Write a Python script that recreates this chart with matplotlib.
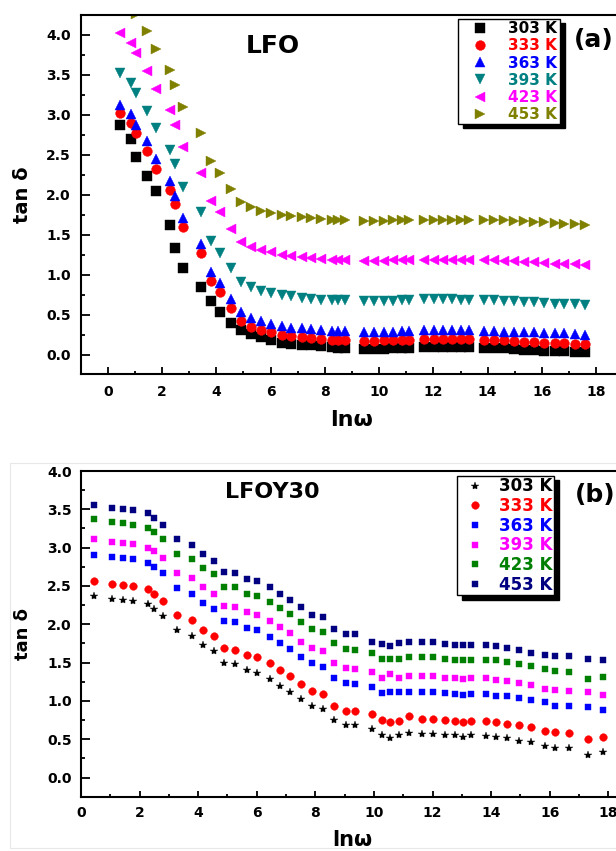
import matplotlib
matplotlib.use("Agg")
import matplotlib.pyplot as plt
from matplotlib.patches import Rectangle
from matplotlib.ticker import MultipleLocator

plt.rcParams['font.family'] = ['DejaVu Sans']
plt.rcParams['font.weight'] = 'bold'

W, H = 616, 851

# ---- panel (a) : LFO ----
lnw_a = [0.45, 0.85, 1.04, 1.44, 1.78, 2.29, 2.48, 2.78, 3.43, 3.81, 4.14, 4.54,
         4.91, 5.29, 5.66, 6.03, 6.42, 6.76, 7.16, 7.5, 7.87, 8.27, 8.49, 8.76,
         9.43, 9.8, 10.17, 10.5, 10.85, 11.09,
         11.65, 12.01, 12.36, 12.69, 13.0, 13.3,
         13.86, 14.23, 14.6, 14.97, 15.34, 15.71, 16.07, 16.47, 16.81, 17.22, 17.6]

lfo_303 = [2.88, 2.70, 2.48, 2.24, 2.05, 1.62, 1.33, 1.09, 0.85, 0.67, 0.53, 0.40,
           0.31, 0.26, 0.22, 0.18, 0.15, 0.14, 0.125, 0.12, 0.11, 0.10, 0.09, 0.09,
           0.07, 0.07, 0.07, 0.08, 0.08, 0.08,
           0.10, 0.10, 0.10, 0.10, 0.10, 0.10,
           0.09, 0.08, 0.08, 0.07, 0.06, 0.06, 0.05, 0.05, 0.05, 0.04, 0.04]
lfo_333 = [3.02, 2.90, 2.77, 2.55, 2.33, 2.06, 1.89, 1.60, 1.27, 0.92, 0.78, 0.58,
           0.42, 0.35, 0.31, 0.28, 0.25, 0.24, 0.22, 0.21, 0.20, 0.19, 0.19, 0.18,
           0.17, 0.17, 0.18, 0.18, 0.18, 0.19,
           0.20, 0.20, 0.20, 0.20, 0.20, 0.20,
           0.19, 0.18, 0.18, 0.17, 0.16, 0.16, 0.15, 0.15, 0.15, 0.14, 0.13]
lfo_363 = [3.13, 3.01, 2.88, 2.67, 2.45, 2.17, 1.99, 1.71, 1.39, 1.04, 0.90, 0.70,
           0.53, 0.46, 0.42, 0.39, 0.36, 0.34, 0.33, 0.32, 0.31, 0.30, 0.30, 0.30,
           0.28, 0.28, 0.29, 0.29, 0.30, 0.30,
           0.31, 0.31, 0.31, 0.31, 0.31, 0.31,
           0.30, 0.30, 0.29, 0.29, 0.28, 0.28, 0.27, 0.27, 0.27, 0.26, 0.25]
lfo_393 = [3.52, 3.40, 3.27, 3.05, 2.84, 2.56, 2.39, 2.10, 1.78, 1.42, 1.27, 1.08,
           0.91, 0.85, 0.80, 0.77, 0.75, 0.73, 0.71, 0.70, 0.69, 0.69, 0.68, 0.68,
           0.67, 0.67, 0.67, 0.67, 0.68, 0.68,
           0.70, 0.70, 0.70, 0.70, 0.69, 0.69,
           0.69, 0.68, 0.67, 0.67, 0.66, 0.66, 0.65, 0.64, 0.64, 0.63, 0.62]
lfo_423 = [4.02, 3.90, 3.77, 3.55, 3.33, 3.06, 2.88, 2.60, 2.27, 1.92, 1.78, 1.57,
           1.41, 1.35, 1.31, 1.28, 1.25, 1.23, 1.22, 1.21, 1.20, 1.19, 1.19, 1.18,
           1.17, 1.17, 1.17, 1.18, 1.18, 1.18,
           1.19, 1.19, 1.19, 1.19, 1.19, 1.19,
           1.18, 1.18, 1.17, 1.17, 1.16, 1.16, 1.15, 1.14, 1.14, 1.13, 1.12]
lfo_453 = [4.45, 4.35, 4.26, 4.05, 3.83, 3.56, 3.38, 3.10, 2.77, 2.42, 2.28, 2.08,
           1.91, 1.85, 1.80, 1.77, 1.75, 1.73, 1.72, 1.71, 1.70, 1.69, 1.68, 1.68,
           1.67, 1.67, 1.67, 1.68, 1.68, 1.68,
           1.69, 1.69, 1.69, 1.69, 1.69, 1.69,
           1.69, 1.68, 1.68, 1.67, 1.67, 1.66, 1.66, 1.65, 1.64, 1.63, 1.62]

# ---- panel (b) : LFOY30 ----
lnw_b = [0.45, 1.05, 1.44, 1.78, 2.30, 2.49, 2.79, 3.29, 3.80, 4.16, 4.54, 4.88,
         5.26, 5.66, 6.02, 6.44, 6.78, 7.14, 7.51, 7.9, 8.27, 8.64, 9.04, 9.37,
         9.92, 10.26, 10.56, 10.84, 11.18, 11.64, 12.02, 12.42, 12.76, 13.04, 13.31,
         13.82, 14.18, 14.53, 14.96, 15.35, 15.84, 16.19, 16.65, 17.3, 17.82]

y30_303 = [2.37, 2.33, 2.32, 2.30, 2.27, 2.20, 2.11, 1.92, 1.85, 1.73, 1.65, 1.49,
           1.48, 1.40, 1.37, 1.29, 1.20, 1.12, 1.02, 0.93, 0.90, 0.75, 0.68, 0.68,
           0.63, 0.56, 0.52, 0.56, 0.58, 0.57, 0.57, 0.56, 0.55, 0.53, 0.55,
           0.54, 0.53, 0.51, 0.48, 0.46, 0.41, 0.39, 0.38, 0.30, 0.33]
y30_333 = [2.56, 2.53, 2.51, 2.50, 2.46, 2.40, 2.31, 2.12, 2.05, 1.93, 1.85, 1.69,
           1.67, 1.60, 1.57, 1.49, 1.40, 1.33, 1.22, 1.13, 1.09, 0.94, 0.87, 0.87,
           0.83, 0.75, 0.72, 0.74, 0.80, 0.77, 0.77, 0.75, 0.74, 0.73, 0.74,
           0.74, 0.72, 0.70, 0.68, 0.66, 0.61, 0.59, 0.58, 0.50, 0.53]
y30_363 = [2.91, 2.88, 2.87, 2.85, 2.80, 2.75, 2.67, 2.47, 2.40, 2.28, 2.20, 2.04,
           2.03, 1.95, 1.92, 1.84, 1.76, 1.68, 1.57, 1.49, 1.44, 1.30, 1.23, 1.22,
           1.18, 1.10, 1.12, 1.11, 1.12, 1.12, 1.12, 1.10, 1.09, 1.08, 1.09,
           1.09, 1.07, 1.06, 1.04, 1.01, 0.99, 0.94, 0.94, 0.92, 0.88]
y30_393 = [3.11, 3.08, 3.06, 3.05, 3.00, 2.95, 2.87, 2.67, 2.60, 2.48, 2.40, 2.24,
           2.23, 2.16, 2.12, 2.04, 1.96, 1.88, 1.77, 1.69, 1.65, 1.50, 1.43, 1.42,
           1.38, 1.30, 1.35, 1.30, 1.33, 1.32, 1.32, 1.30, 1.30, 1.29, 1.30,
           1.30, 1.27, 1.26, 1.23, 1.21, 1.16, 1.14, 1.13, 1.11, 1.08]
y30_423 = [3.37, 3.33, 3.32, 3.30, 3.26, 3.20, 3.11, 2.92, 2.85, 2.73, 2.65, 2.49,
           2.48, 2.40, 2.37, 2.29, 2.21, 2.13, 2.03, 1.94, 1.90, 1.75, 1.68, 1.67,
           1.63, 1.55, 1.55, 1.55, 1.57, 1.57, 1.57, 1.55, 1.54, 1.53, 1.54,
           1.54, 1.53, 1.51, 1.48, 1.46, 1.41, 1.39, 1.38, 1.29, 1.31]
y30_453 = [3.55, 3.52, 3.50, 3.49, 3.45, 3.39, 3.30, 3.11, 3.03, 2.92, 2.83, 2.68,
           2.67, 2.59, 2.56, 2.48, 2.40, 2.32, 2.22, 2.12, 2.09, 1.94, 1.87, 1.87,
           1.77, 1.74, 1.72, 1.75, 1.77, 1.77, 1.77, 1.74, 1.73, 1.73, 1.73,
           1.73, 1.71, 1.69, 1.67, 1.62, 1.60, 1.58, 1.58, 1.55, 1.53]

temps = ['303 K', '333 K', '363 K', '393 K', '423 K', '453 K']
colors_a = ['#000000', '#ff0000', '#0000ff', '#008080', '#ff00ff', '#808000']
markers_a = ['s', 'o', '^', 'v', '<', '>']
sizes_a = [6.5, 7, 7.5, 7.5, 7.5, 7.5]
colors_b = ['#000000', '#ff0000', '#0000ff', '#ff00ff', '#008000', '#000080']
markers_b = ['*', 'o', 's', 's', 's', 's']
sizes_b = [6, 5.5, 4.5, 4.5, 4.5, 4.5]


def px(x0, y0, x1, y1):
    # pixel box (top-left origin) -> figure fraction rect
    return [x0 / W, 1 - y1 / H, (x1 - x0) / W, (y1 - y0) / H]


def style_axes(ax, maj_len_y, maj_len_x, ypad, xpad):
    for s in ax.spines.values():
        s.set_linewidth(1.5)
    ax.xaxis.set_major_locator(MultipleLocator(2))
    ax.xaxis.set_minor_locator(MultipleLocator(1))
    ax.yaxis.set_major_locator(MultipleLocator(0.5))
    ax.yaxis.set_minor_locator(MultipleLocator(0.25))
    ax.tick_params(axis='y', which='major', direction='in', length=maj_len_y, width=1.3, pad=ypad)
    ax.tick_params(axis='y', which='minor', direction='in', length=maj_len_y / 2.2, width=1.3)
    ax.tick_params(axis='x', which='major', direction='in', length=maj_len_x, width=1.3, pad=xpad)
    ax.tick_params(axis='x', which='minor', direction='in', length=maj_len_x / 2.2, width=1.3)
    ax.yaxis.set_major_formatter(plt.FormatStrFormatter('%.1f'))
    for lab in ax.get_xticklabels() + ax.get_yticklabels():
        lab.set_fontweight('bold')
        lab.set_fontsize(10)


fig = plt.figure(figsize=(W / 100, H / 100), dpi=100)

# faint frame around the lower (pasted) panel
fig.patches.append(Rectangle((10 / W, 1 - 848 / H), 620 / W, (848 - 463) / H,
                             transform=fig.transFigure, fill=False,
                             edgecolor='#e8e8e8', linewidth=0.8))

# ---------------- (a) ----------------
ax1 = fig.add_axes(px(80.7, 15, 623.3, 374))
series_a = [lfo_303, lfo_333, lfo_363, lfo_393, lfo_423, lfo_453]
for i in range(6):
    ax1.plot(lnw_a, series_a[i], linestyle='none', marker=markers_a[i],
             ms=sizes_a[i], color=colors_a[i], mec=colors_a[i], mew=0.3,
             label=temps[i])
ax1.set_xlim(-1, 19)
ax1.set_ylim(-0.24, 4.25)
style_axes(ax1, 6.2, 5, 7, 8)
ax1.set_ylabel('tan δ', fontsize=14, fontweight='bold', va='center')
ax1.yaxis.set_label_coords((22 - 80.7) / 542.6, 0.5)
ax1.set_xlabel('lnω', fontsize=16, fontweight='bold', va='center')
ax1.xaxis.set_label_coords(0.5, (374 - 420) / 359.0)
fig.text(273 / W, 1 - 46 / H, 'LFO', fontsize=18, fontweight='bold', ha='center', va='center')
fig.text(594 / W, 1 - 40 / H, '(a)', fontsize=18, fontweight='bold', ha='center', va='center')

leg1 = ax1.legend(loc='upper left', bbox_to_anchor=(458 / W, 1 - 19 / H),
                  bbox_transform=fig.transFigure, borderaxespad=0, numpoints=1,
                  prop={'weight': 'bold', 'size': 11}, labelcolor=colors_a,
                  fancybox=False, edgecolor='black', framealpha=1,
                  borderpad=0.15, handlelength=2.6, handletextpad=0.55,
                  labelspacing=0.14,
                  shadow={'facecolor': 'black', 'edgecolor': 'black', 'alpha': 1,
                          'ox': 3.5, 'oy': -3})
leg1.get_frame().set_linewidth(1.0)

# ---------------- (b) ----------------
ax2 = fig.add_axes(px(81, 471, 624.4, 796.7))
series_b = [y30_303, y30_333, y30_363, y30_393, y30_423, y30_453]
for i in range(6):
    ax2.plot(lnw_b, series_b[i], linestyle='none', marker=markers_b[i],
             ms=sizes_b[i], color=colors_b[i], mec=colors_b[i], mew=0.3,
             label=temps[i])
ax2.set_xlim(0, 18.55)
ax2.set_ylim(-0.25, 4.0)
style_axes(ax2, 6.5, 4.5, 6.5, 7)
ax2.set_ylabel('tan δ', fontsize=13, fontweight='bold', va='center')
ax2.yaxis.set_label_coords((23 - 81) / 543.4, 0.5)
ax2.set_xlabel('lnω', fontsize=15, fontweight='bold', va='center')
ax2.xaxis.set_label_coords(0.5, (796.7 - 840) / 325.7)
fig.text(272.5 / W, 1 - 492 / H, 'LFOY30', fontsize=16, fontweight='bold', ha='center', va='center')
fig.text(595 / W, 1 - 495 / H, '(b)', fontsize=18, fontweight='bold', ha='center', va='center')

leg2 = ax2.legend(loc='upper left', bbox_to_anchor=(456.7 / W, 1 - 475.7 / H),
                  bbox_transform=fig.transFigure, borderaxespad=0, numpoints=1,
                  prop={'weight': 'bold', 'size': 12}, labelcolor=colors_b,
                  fancybox=False, edgecolor='black', framealpha=1,
                  borderpad=0.1, handlelength=2.0, handletextpad=0.45,
                  labelspacing=0.1,
                  shadow={'facecolor': 'black', 'edgecolor': 'black', 'alpha': 1,
                          'ox': 3.5, 'oy': -3})
leg2.get_frame().set_linewidth(1.0)

fig.savefig('out.png', dpi=100)
